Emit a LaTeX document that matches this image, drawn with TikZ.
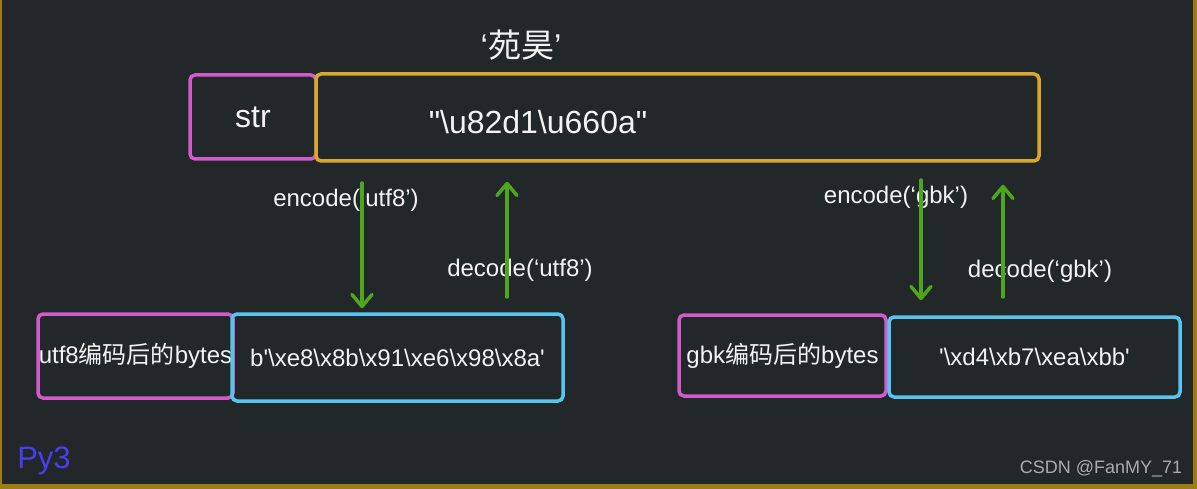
\documentclass[tikz,border=0pt]{standalone}
\usepackage{fontspec}
\setmainfont{Liberation Sans}[Ligatures=TeXOff]
\newfontfamily\cjk{Noto Sans CJK SC}
\usetikzlibrary{arrows.meta,positioning}
\usepackage{xcolor}
\definecolor{bgInk}{HTML}{22272A}
\definecolor{frameGold}{HTML}{9C7C14}
\definecolor{txtInk}{HTML}{F2F2F2}
\definecolor{cType}{HTML}{D35ACB}
\definecolor{cStr}{HTML}{D6A92B}
\definecolor{cByte}{HTML}{56C6F0}
\definecolor{cConv}{HTML}{4DA61B}
\definecolor{cPy}{HTML}{4A3FF0}
\definecolor{cMark}{HTML}{A8ACAE}

\newcommand\bsl{\textbackslash}

\tikzset{
  box/.style={draw, line width=3.5pt, rounded corners=5pt, inner sep=0pt,
              text=txtInk, font=\fontsize{24}{28}\selectfont},
  typebox/.style={box, draw=cType},
  strbox/.style={box, draw=cStr},
  bytebox/.style={box, draw=cByte},
  conv/.style={draw=cConv, line width=3.5pt,
               -{Straight Barb[length=12pt, width=20pt, round]}},
  lbl/.style={text=txtInk, inner sep=0pt, font=\fontsize{24}{28}\selectfont},
}

\begin{document}
\begin{tikzpicture}[x=1pt, y=-1pt, line cap=round]

% --- canvas ---
\useasboundingbox (0,0) rectangle (1197,489);
\fill[bgInk] (0,0) rectangle (1197,489);
\fill[frameGold] (0,0) rectangle (2,489);
\fill[frameGold] (1193,0) rectangle (1197,489);
\fill[frameGold] (0,484) rectangle (1197,489);

% --- str row ---
\node[lbl, font=\fontsize{33}{36}\selectfont] (chars) at (521,45) {‘{\cjk 苑昊}’};
\node[typebox, minimum width=126pt, minimum height=84pt,
      font=\fontsize{32}{36}\selectfont] (strtype) at (253,117) {str};
\node[strbox, minimum width=723pt, minimum height=87pt] (strval) at (677.5,117.5) {};
\node[lbl, font=\fontsize{32}{36}\selectfont] (strtxt) at (538,122)
  {"\bsl u82d1\bsl u660a"};

% --- bytes row ---
\node[typebox, minimum width=195pt, minimum height=84pt] (b8type) at (135.5,356)
  {utf8{\cjk 编码后的}bytes};
\node[bytebox, minimum width=331pt, minimum height=87pt] (b8val) at (397.5,357.5)
  {b'\bsl xe8\bsl x8b\bsl x91\bsl xe6\bsl x98\bsl x8a'};
\node[typebox, minimum width=207pt, minimum height=81pt] (gbtype) at (782.5,355.5)
  {gbk{\cjk 编码后的}bytes};
\node[bytebox, minimum width=291pt, minimum height=80pt] (gbval) at (1034.5,357)
  {'\bsl xd4\bsl xb7\bsl xea\bsl xbb'};

% --- labels ---
\node[lbl] (enc8) at (346,200) {encode(‘utf8’)};
\node[lbl] (dec8) at (520,270) {decode(‘utf8’)};
\node[lbl] (encg) at (896,197) {encode(‘gbk’)};
\node[lbl] (decg) at (1040,271) {decode(‘gbk’)};

% --- conversions ---
\coordinate (enc8top) at (362,183);
\coordinate (dec8bot) at (507,297);
\coordinate (encgtop) at (921,180);
\coordinate (decgbot) at (1003,297);
\draw[conv, shorten >=4pt]  (enc8top) -- (enc8top |- b8val.north);
\draw[conv, shorten >=19pt] (dec8bot) -- (dec8bot |- strval.south);
\draw[conv, shorten >=15pt] (encgtop) -- (encgtop |- gbval.north);
\draw[conv, shorten >=22pt] (decgbot) -- (decgbot |- strval.south);

% --- marks ---
\node[lbl, text=cPy, font=\fontsize{31}{34}\selectfont] (py) at (44,461) {Py3};
\node[lbl, text=cMark, font=\fontsize{18}{22}\selectfont] (mark) at (1101,469)
  {CSDN @FanMY\_71};

\end{tikzpicture}
\end{document}
